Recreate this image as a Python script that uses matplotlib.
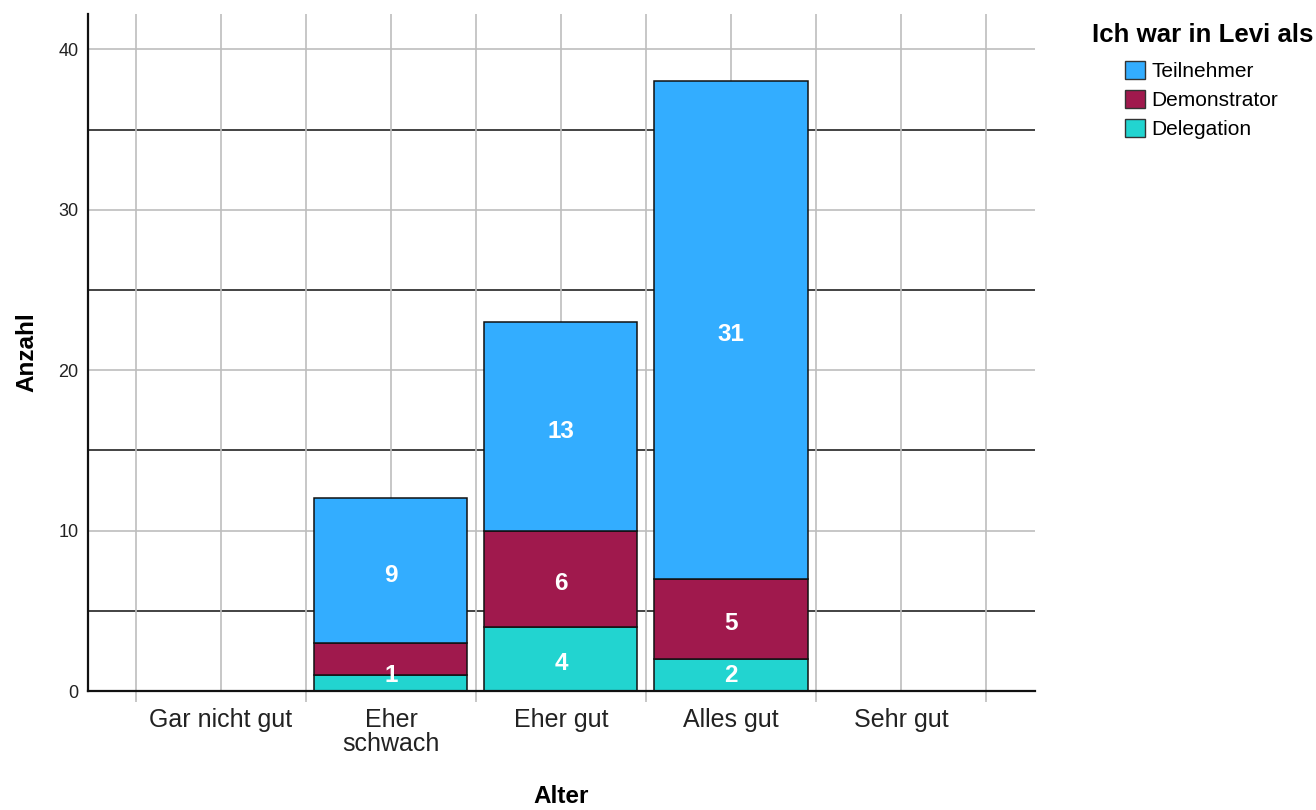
import numpy as np
import matplotlib
matplotlib.use("Agg")
import matplotlib.pyplot as plt
import matplotlib.patches as patches

plt.rcParams['font.family'] = ['Liberation Sans', 'DejaVu Sans']

# data
categories = ["Gar nicht gut", "Eher\nschwach", "Eher gut", "Alles gut", "Sehr gut"]
series = ["Teilnehmer", "Demonstrator", "Delegation"]
delegation = [0, 1, 4, 2, 0]
demonstrator = [0, 2, 6, 5, 0]
teilnehmer = [0, 9, 13, 31, 0]
# SPSS left the small Demonstrator segment of "Eher schwach" unlabelled
show_label_demo = [False, False, True, True, False]

colors = {"Teilnehmer": "#33adff", "Demonstrator": "#a0194d", "Delegation": "#22d4d0"}

fig = plt.figure(figsize=(13.16, 8.10), dpi=100)
ax = fig.add_axes([88 / 1316, 1 - 691 / 810, (1035 - 88) / 1316, (691 - 14) / 810])

x = np.arange(len(categories))
width = 0.9

# grid: gray at 10s, black at 5s, gray verticals every half category
for v in [10, 20, 30, 40]:
    ax.axhline(v, color="#bebebe", lw=1.2, zorder=0)
for v in [5, 15, 25, 35]:
    ax.axhline(v, color="#222222", lw=1.2, zorder=0)
for v in np.arange(-0.5, len(categories), 0.5):
    ax.axvline(v, color="#bebebe", lw=1.2, zorder=0)

stack = [("Delegation", delegation), ("Demonstrator", demonstrator), ("Teilnehmer", teilnehmer)]
bottom = np.zeros(len(categories))
for name, vals in stack:
    vals = np.array(vals, dtype=float)
    ax.bar(x, vals, width, bottom=bottom, color=colors[name], edgecolor="#111111",
           linewidth=1.1, zorder=3)
    for i, v in enumerate(vals):
        if v <= 0:
            continue
        if name == "Demonstrator" and not show_label_demo[i]:
            continue
        ypos = max(bottom[i] + v / 2, bottom[i] + 1.3)
        ax.annotate(f"{int(v)}", (x[i], ypos), xytext=(0, -3.5), textcoords="offset points",
                    ha="center", va="center", color="white",
                    fontsize=17.5, fontweight="bold", zorder=4)
    bottom += vals

ax.set_xlim(-0.782, 4.788)
ax.set_ylim(0, 42.2)

ax.set_xticks(x)
ax.set_xticklabels(categories, fontsize=18, color="#222222", linespacing=1.0)
ax.set_xticks(np.arange(-0.5, len(categories), 1.0), minor=True)
ax.tick_params(axis="x", which="major", length=0, pad=12)
ax.tick_params(axis="x", which="minor", length=8, width=1.2, color="#bebebe")
ax.set_yticks([0, 10, 20, 30, 40])
ax.tick_params(axis="y", length=0, labelsize=13, labelcolor="#222222", pad=7)

for s in ["top", "right"]:
    ax.spines[s].set_visible(False)
for s in ["left", "bottom"]:
    ax.spines[s].set_linewidth(1.6)
    ax.spines[s].set_color("#111111")
    ax.spines[s].set_zorder(5)

ax.set_ylabel("Anzahl", fontsize=17.5, fontweight="bold", labelpad=14)
ax.set_xlabel("Alter", fontsize=17.5, fontweight="bold", labelpad=21)

# legend
fig.text(1092 / 1316, 1 - 35 / 810, "Ich war in Levi als", fontsize=18.6, fontweight="bold",
         ha="left", va="center")
handles = [patches.Patch(facecolor=colors[n], edgecolor="#333333", linewidth=1.0) for n in series]
fig.legend(handles, series, loc="upper left", bbox_to_anchor=(1125 / 1316, 1 - 61 / 810),
           frameon=False, fontsize=15, handlelength=0.95, handleheight=0.95,
           handletextpad=0.3, labelspacing=0.42, borderaxespad=0, borderpad=0)

fig.savefig("out.png", dpi=100)
